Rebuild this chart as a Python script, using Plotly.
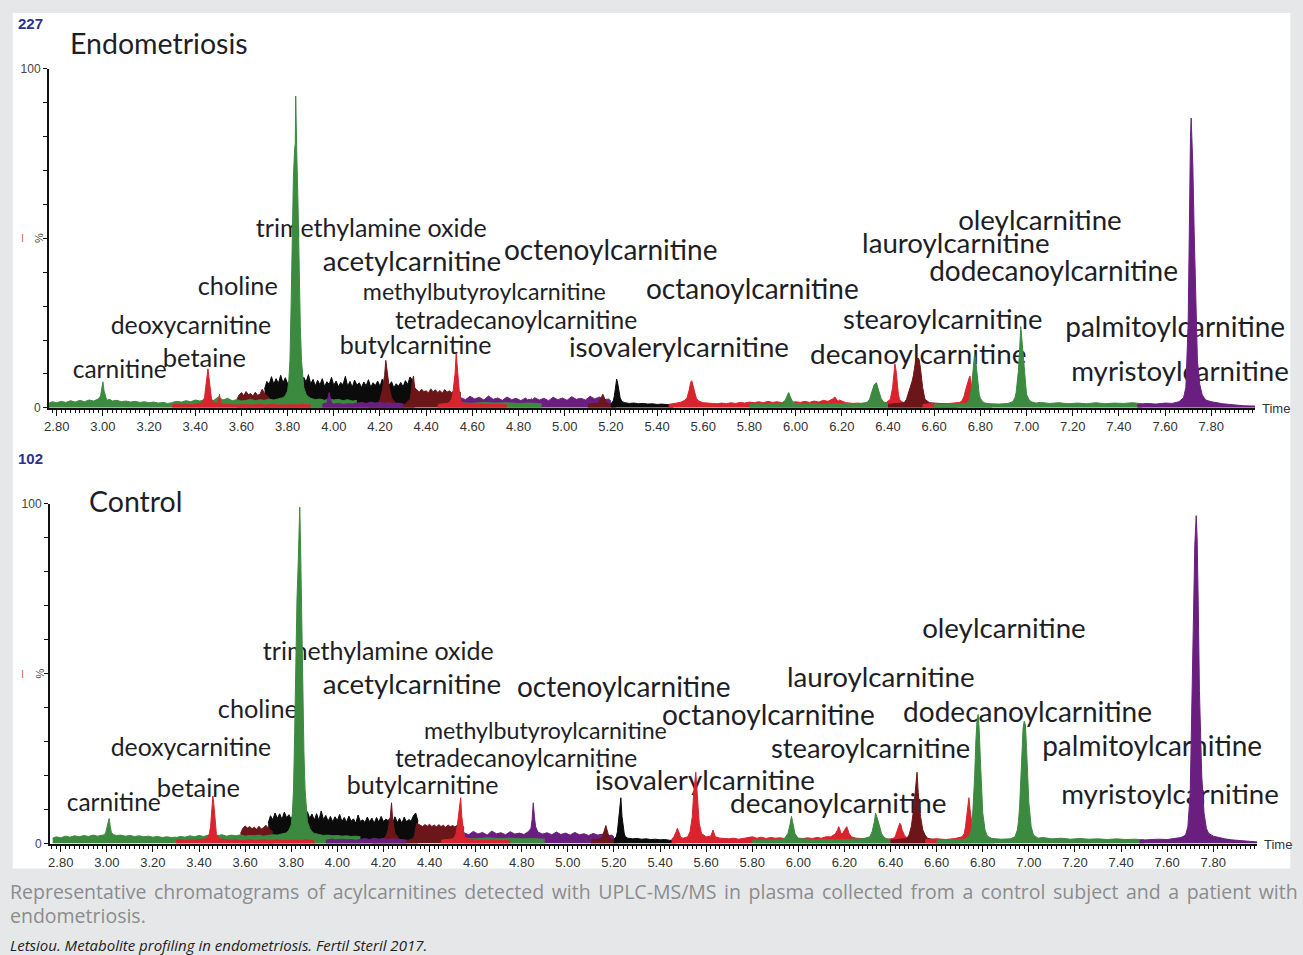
import plotly.graph_objects as go

W, H = 1303, 955

# ---------------- data ----------------
TIME_TICKS = [2.8, 3.0, 3.2, 3.4, 3.6, 3.8, 4.0, 4.2, 4.4, 4.6, 4.8, 5.0, 5.2,
              5.4, 5.6, 5.8, 6.0, 6.2, 6.4, 6.6, 6.8, 7.0, 7.2, 7.4, 7.6, 7.8]
TIME_TICK_LABELS = ["2.80", "3.00", "3.20", "3.40", "3.60", "3.80", "4.00", "4.20",
                    "4.40", "4.60", "4.80", "5.00", "5.20", "5.40", "5.60", "5.80",
                    "6.00", "6.20", "6.40", "6.60", "6.80", "7.00", "7.20", "7.40",
                    "7.60", "7.80"]
PCT_TICKS = [0, 10, 20, 30, 40, 50, 60, 70, 80, 90, 100]
PCT_TICK_LABELS = ["0", "", "", "", "", "", "", "", "", "", "100"]

PANEL_NAMES = ["Endometriosis", "Control"]
PANEL_MAX = ["227", "102"]

# Channels: rows of (retention time [min], endometriosis [%], control [%])
G1 = [(2.765, 1.3, 1.6), (2.78, 1.8, 2.0), (2.80, 1.5, 1.7), (2.82, 1.9, 2.2), (2.84, 1.6, 1.9),
      (2.86, 2.1, 2.3), (2.88, 1.7, 2.0), (2.90, 2.2, 2.4), (2.92, 1.8, 2.1), (2.94, 2.3, 2.5),
      (2.96, 2.0, 2.2), (2.98, 2.6, 2.4), (2.99, 3.5, 2.6), (2.995, 5.5, 3.2), (3.00, 7.7, 4.5),
      (3.005, 5.0, 6.5), (3.01, 3.4, 7.4), (3.015, 2.6, 5.0), (3.02, 2.3, 3.2), (3.03, 2.5, 2.6),
      (3.04, 2.0, 2.4), (3.06, 2.2, 2.5), (3.08, 1.8, 2.2), (3.10, 2.0, 2.4), (3.12, 1.7, 2.1),
      (3.14, 1.9, 2.3), (3.16, 1.6, 2.0), (3.18, 1.8, 2.2), (3.20, 1.5, 1.9), (3.22, 1.7, 2.1),
      (3.24, 1.4, 1.8), (3.26, 1.6, 2.0), (3.28, 1.3, 1.8), (3.30, 1.5, 1.9)]

R1 = [(3.30, 0.9, 1.0), (3.32, 1.0, 1.1), (3.34, 0.8, 0.9), (3.36, 1.0, 1.1), (3.38, 0.9, 1.0),
      (3.40, 1.0, 1.1), (3.42, 1.2, 1.2), (3.43, 1.6, 1.4), (3.44, 3.0, 2.0), (3.445, 6.0, 3.0),
      (3.45, 9.5, 5.0), (3.455, 11.5, 9.0), (3.46, 8.5, 14.0), (3.465, 5.0, 11.0), (3.47, 2.8, 6.0),
      (3.475, 2.0, 3.0), (3.48, 1.5, 2.0), (3.49, 1.3, 1.5), (3.50, 1.6, 1.3), (3.505, 4.0, 1.4),
      (3.51, 1.5, 1.2), (3.52, 1.0, 1.1), (3.54, 0.9, 1.0), (3.56, 1.0, 1.1), (3.58, 0.8, 0.9),
      (3.60, 0.9, 1.0), (3.62, 1.0, 1.1), (3.64, 0.8, 0.9), (3.66, 0.9, 1.0), (3.68, 1.0, 1.1),
      (3.70, 0.8, 0.9), (3.72, 0.9, 1.0), (3.74, 1.0, 1.1), (3.76, 0.8, 0.9), (3.78, 0.9, 1.0),
      (3.80, 1.0, 1.1), (3.82, 0.9, 1.0), (3.84, 0.8, 0.9), (3.86, 1.0, 1.1), (3.88, 0.9, 1.0),
      (3.90, 0.8, 0.9)]

M1 = [(3.58, 2.5, 3.0), (3.59, 3.8, 4.5), (3.60, 4.5, 5.2), (3.61, 3.6, 4.6), (3.62, 4.8, 5.0),
      (3.63, 3.9, 4.4), (3.64, 4.2, 4.8), (3.65, 3.5, 4.2), (3.66, 4.6, 5.1), (3.67, 3.7, 4.3),
      (3.68, 4.0, 4.7), (3.69, 5.5, 5.4), (3.70, 4.2, 4.6), (3.71, 3.5, 4.0), (3.72, 3.0, 3.5)]

K1 = [(3.70, 5.5, 6.0), (3.71, 7.8, 8.2), (3.72, 6.9, 7.0), (3.73, 9.2, 9.0), (3.74, 7.0, 7.4),
      (3.75, 8.6, 8.8), (3.76, 7.2, 7.1), (3.77, 9.6, 9.3), (3.78, 7.4, 7.6), (3.79, 8.9, 8.5),
      (3.80, 7.1, 7.2), (3.81, 8.3, 8.9), (3.82, 7.5, 7.3), (3.83, 8.0, 8.4), (3.84, 7.3, 7.0),
      (3.85, 8.8, 8.6), (3.86, 6.9, 7.2), (3.87, 9.0, 9.4), (3.88, 7.6, 7.5), (3.89, 9.8, 8.7),
      (3.90, 7.0, 6.9), (3.91, 8.4, 8.8), (3.92, 6.5, 6.8), (3.93, 8.1, 9.6), (3.94, 6.8, 7.1),
      (3.95, 8.6, 8.3), (3.96, 6.3, 6.6), (3.97, 7.7, 8.0), (3.98, 6.9, 6.4), (3.99, 9.0, 7.9),
      (4.00, 6.6, 6.8), (4.01, 7.9, 8.6), (4.02, 6.2, 6.5), (4.03, 7.5, 7.7), (4.04, 6.8, 6.3),
      (4.05, 9.3, 8.1), (4.06, 6.4, 6.6), (4.07, 7.8, 7.3), (4.08, 6.1, 6.0), (4.09, 8.2, 8.4),
      (4.10, 6.7, 6.5), (4.11, 7.4, 7.0), (4.12, 6.0, 6.2), (4.13, 7.6, 7.8), (4.14, 6.5, 6.4),
      (4.15, 8.3, 7.5), (4.16, 6.1, 6.0), (4.17, 7.4, 7.7), (4.18, 6.6, 6.3), (4.19, 7.9, 8.0),
      (4.20, 6.3, 6.5), (4.21, 8.5, 7.2), (4.22, 6.2, 6.8), (4.23, 7.2, 7.5), (4.24, 6.7, 6.1),
      (4.25, 7.7, 7.9), (4.26, 5.9, 6.2), (4.27, 7.1, 7.4), (4.28, 6.4, 6.0), (4.29, 7.5, 7.8),
      (4.30, 6.2, 6.4), (4.31, 8.0, 7.1), (4.32, 6.9, 6.6), (4.33, 9.1, 8.2), (4.34, 8.2, 9.0),
      (4.35, 6.0, 6.5)]

G2 = [(3.30, 1.6, 1.8), (3.32, 1.9, 2.1), (3.34, 1.7, 1.9), (3.36, 2.1, 2.3), (3.38, 1.8, 2.0),
      (3.40, 2.3, 2.4), (3.42, 2.0, 2.1), (3.44, 2.4, 2.5), (3.46, 2.1, 2.2), (3.48, 2.2, 2.4),
      (3.50, 3.2, 2.6), (3.52, 2.3, 2.2), (3.54, 2.8, 2.5), (3.56, 2.1, 2.3), (3.58, 2.4, 2.6),
      (3.60, 2.0, 2.2), (3.62, 2.2, 2.4), (3.64, 2.5, 2.3), (3.66, 2.1, 2.5), (3.68, 2.4, 2.2),
      (3.70, 2.2, 2.4), (3.72, 2.6, 2.6), (3.74, 2.3, 2.5), (3.76, 2.7, 2.8), (3.78, 3.0, 3.2),
      (3.79, 3.6, 4.0), (3.80, 5.0, 5.5), (3.805, 8.0, 9.0), (3.81, 14.0, 16.0), (3.815, 30.0, 33.0),
      (3.82, 52.0, 55.0), (3.825, 68.0, 72.0), (3.83, 76.0, 82.0), (3.833, 78.0, 88.0),
      (3.835, 92.0, 96.0), (3.837, 78.0, 99.0), (3.84, 74.0, 90.0), (3.845, 60.0, 68.0),
      (3.85, 40.0, 45.0), (3.855, 24.0, 27.0), (3.86, 14.0, 16.0), (3.865, 9.0, 10.0),
      (3.87, 6.0, 6.5), (3.88, 4.0, 4.5), (3.89, 3.2, 3.5), (3.90, 2.8, 3.0), (3.92, 2.4, 2.6),
      (3.94, 2.6, 2.4), (3.96, 2.2, 2.5), (3.98, 2.7, 2.3), (4.00, 2.3, 2.4), (4.02, 2.5, 2.2),
      (4.04, 2.1, 2.3), (4.06, 2.4, 2.1), (4.08, 2.0, 2.2), (4.10, 2.2, 2.0)]

M2 = [(4.15, 0.8, 0.8), (4.17, 0.9, 0.9), (4.19, 1.0, 1.0), (4.20, 2.5, 1.5), (4.21, 5.0, 2.0),
      (4.215, 7.5, 3.0), (4.22, 9.5, 4.0), (4.225, 14.0, 6.0), (4.23, 11.0, 8.0), (4.235, 9.5, 12.0),
      (4.24, 6.0, 7.0), (4.25, 3.0, 3.0), (4.27, 1.2, 1.2), (4.29, 1.0, 1.0), (4.31, 1.1, 1.0),
      (4.33, 2.5, 1.6), (4.335, 4.5, 2.5), (4.34, 8.0, 4.5), (4.345, 9.4, 6.0), (4.35, 6.0, 5.8),
      (4.36, 5.2, 5.4), (4.37, 4.6, 5.0), (4.38, 5.5, 5.6), (4.39, 4.8, 5.1), (4.40, 5.0, 5.7),
      (4.41, 4.4, 5.0), (4.42, 5.6, 5.5), (4.43, 4.7, 4.9), (4.44, 5.3, 5.6), (4.45, 4.5, 5.0),
      (4.46, 5.1, 5.4), (4.47, 4.3, 4.8), (4.48, 5.4, 5.5), (4.49, 4.6, 5.0), (4.50, 5.0, 5.3),
      (4.51, 4.5, 4.9), (4.52, 4.9, 5.4), (4.53, 4.6, 5.0), (4.54, 4.8, 5.2), (4.55, 4.5, 4.8)]

P1 = [(3.95, 1.0, 1.0), (3.96, 1.2, 1.1), (3.97, 1.5, 1.2), (3.975, 3.0, 1.3), (3.98, 4.5, 1.4),
      (3.985, 3.0, 1.2), (3.99, 1.4, 1.1), (4.00, 1.1, 1.2), (4.02, 1.3, 1.3), (4.04, 1.0, 1.1),
      (4.06, 1.2, 1.2), (4.08, 1.1, 1.0), (4.10, 1.4, 1.3), (4.12, 1.6, 1.5), (4.14, 1.3, 1.2),
      (4.16, 1.7, 1.6), (4.18, 1.4, 1.3), (4.20, 1.6, 1.5), (4.22, 1.3, 1.2), (4.24, 1.5, 1.4),
      (4.26, 1.2, 1.3), (4.28, 1.4, 1.2), (4.30, 1.1, 1.0)]

R2 = [(4.45, 1.0, 1.0), (4.47, 1.1, 1.1), (4.49, 1.3, 1.2), (4.50, 1.6, 1.4), (4.51, 2.5, 2.0),
      (4.515, 4.0, 3.0), (4.52, 6.5, 5.0), (4.525, 10.0, 8.0), (4.53, 16.0, 11.0), (4.535, 12.0, 13.5),
      (4.54, 7.0, 8.0), (4.545, 3.5, 4.0), (4.55, 2.0, 2.2), (4.56, 1.4, 1.5), (4.58, 1.2, 1.2),
      (4.60, 1.1, 1.1), (4.62, 1.0, 1.0), (4.64, 1.2, 1.1), (4.66, 1.0, 1.0), (4.68, 1.1, 1.0),
      (4.70, 0.9, 0.9), (4.72, 1.0, 1.0), (4.74, 0.9, 0.9), (4.75, 0.8, 0.8)]

P2 = [(4.55, 3.0, 3.2), (4.57, 2.4, 2.6), (4.59, 3.4, 3.6), (4.61, 2.6, 2.8), (4.63, 3.1, 3.3),
      (4.65, 2.3, 2.5), (4.67, 3.5, 3.7), (4.69, 2.5, 2.9), (4.71, 2.9, 3.2), (4.73, 2.2, 2.6),
      (4.75, 3.2, 3.5), (4.77, 2.4, 2.8), (4.79, 2.8, 3.1), (4.81, 2.1, 2.7), (4.83, 2.9, 3.6),
      (4.84, 2.3, 4.5), (4.845, 2.6, 7.0), (4.85, 2.2, 12.0), (4.855, 2.7, 8.0), (4.86, 2.4, 5.0),
      (4.87, 3.0, 3.4), (4.89, 2.3, 2.8), (4.91, 2.8, 3.2), (4.93, 2.1, 2.6), (4.95, 3.1, 3.4),
      (4.97, 2.4, 2.7), (4.99, 2.9, 3.1), (5.01, 2.2, 2.5), (5.03, 3.3, 3.3), (5.05, 2.5, 2.6),
      (5.07, 2.8, 2.9), (5.09, 2.3, 2.4), (5.11, 3.4, 3.0), (5.13, 2.6, 2.5), (5.15, 3.2, 2.8),
      (5.17, 2.4, 2.3), (5.19, 2.6, 2.5), (5.20, 2.0, 2.0)]

G3 = [(4.55, 1.5, 1.6), (4.60, 1.3, 1.4), (4.65, 1.6, 1.7), (4.70, 1.4, 1.5), (4.75, 1.5, 1.6),
      (4.80, 1.3, 1.4), (4.85, 1.4, 1.5), (4.90, 1.2, 1.3)]

M3 = [(5.10, 1.0, 1.0), (5.12, 1.1, 1.1), (5.14, 1.3, 1.4), (5.15, 1.8, 2.0), (5.155, 2.5, 3.0),
      (5.16, 3.5, 4.3), (5.165, 4.0, 5.3), (5.17, 3.2, 4.0), (5.175, 2.0, 2.5), (5.18, 1.4, 1.6),
      (5.19, 1.1, 1.2), (5.20, 1.0, 1.0), (5.21, 0.9, 0.9), (5.22, 0.8, 0.8)]

K2 = [(5.20, 1.2, 1.3), (5.21, 2.0, 2.0), (5.215, 3.5, 3.5), (5.22, 6.0, 7.0), (5.225, 8.5, 11.0),
      (5.23, 7.0, 13.5), (5.235, 4.5, 8.0), (5.24, 3.0, 4.5), (5.245, 2.2, 2.8), (5.25, 1.8, 2.0),
      (5.26, 1.5, 1.6), (5.28, 1.3, 1.4), (5.30, 1.4, 1.5), (5.32, 1.2, 1.3), (5.34, 1.3, 1.4),
      (5.36, 1.1, 1.2), (5.38, 1.2, 1.3), (5.40, 1.0, 1.1), (5.42, 1.1, 1.2), (5.44, 1.0, 1.0),
      (5.46, 0.9, 0.9), (5.47, 0.8, 0.8)]

R3 = [(5.45, 1.0, 1.2), (5.46, 1.1, 2.0), (5.47, 1.2, 3.5), (5.475, 1.2, 4.5), (5.48, 1.3, 3.8),
      (5.485, 1.3, 2.5), (5.49, 1.4, 1.8), (5.50, 1.6, 1.6), (5.52, 2.2, 2.0), (5.53, 3.0, 3.5),
      (5.54, 5.5, 8.0), (5.545, 7.5, 14.0), (5.55, 8.0, 19.0), (5.555, 6.8, 21.0), (5.56, 6.0, 16.0),
      (5.565, 4.0, 10.0), (5.57, 2.8, 6.0), (5.58, 2.0, 3.0), (5.60, 1.5, 2.0), (5.62, 1.4, 2.2),
      (5.625, 1.4, 3.0), (5.63, 1.5, 4.0), (5.635, 1.4, 3.0), (5.64, 1.3, 2.0), (5.66, 1.2, 1.6),
      (5.68, 1.4, 1.5), (5.70, 1.2, 1.4), (5.72, 1.5, 1.6), (5.74, 1.3, 1.3), (5.76, 1.6, 1.5),
      (5.78, 1.4, 1.8), (5.80, 1.7, 2.0), (5.82, 1.5, 1.6), (5.84, 1.8, 1.9), (5.86, 1.5, 1.5),
      (5.88, 1.9, 1.8), (5.90, 1.6, 1.6), (5.92, 1.8, 1.7), (5.94, 1.5, 1.5), (5.96, 1.7, 1.6),
      (5.98, 1.5, 1.4), (6.00, 1.8, 1.6), (6.02, 1.6, 1.5), (6.04, 1.9, 1.7), (6.06, 1.6, 1.5),
      (6.08, 2.0, 1.8), (6.10, 1.7, 1.6), (6.12, 2.2, 2.0), (6.14, 1.9, 2.0), (6.16, 2.6, 2.8),
      (6.17, 3.2, 4.0), (6.175, 2.5, 5.0), (6.18, 2.2, 4.2), (6.185, 2.0, 3.0), (6.19, 2.3, 2.8),
      (6.20, 2.0, 3.8), (6.205, 1.8, 4.6), (6.21, 1.7, 5.0), (6.215, 1.6, 4.0), (6.22, 1.5, 3.0),
      (6.23, 1.4, 2.0), (6.25, 1.3, 1.6), (6.27, 1.4, 1.5), (6.29, 1.2, 1.4), (6.31, 1.3, 1.3),
      (6.33, 1.2, 1.2), (6.35, 1.3, 1.3), (6.37, 1.2, 1.2), (6.39, 1.4, 1.3), (6.41, 2.5, 1.5),
      (6.42, 6.0, 2.0), (6.425, 10.0, 3.0), (6.43, 13.0, 4.0), (6.435, 11.0, 5.0), (6.44, 7.0, 6.0),
      (6.445, 4.0, 5.5), (6.45, 2.5, 4.0), (6.46, 1.8, 2.5), (6.47, 1.5, 1.8), (6.49, 1.3, 1.4),
      (6.52, 1.2, 1.2), (6.55, 1.1, 1.1)]

G4 = [(5.80, 1.0, 1.0), (5.84, 1.1, 1.1), (5.88, 1.0, 1.2), (5.92, 1.2, 1.1), (5.94, 1.4, 1.5),
      (5.955, 2.2, 3.0), (5.965, 3.8, 6.0), (5.97, 4.5, 8.0), (5.975, 3.6, 6.5), (5.985, 2.0, 3.0),
      (6.00, 1.3, 1.5), (6.04, 1.1, 1.2), (6.08, 1.2, 1.1), (6.12, 1.0, 1.2), (6.16, 1.2, 1.1),
      (6.20, 1.1, 1.2), (6.24, 1.2, 1.3), (6.28, 1.3, 1.4), (6.31, 1.6, 2.0), (6.32, 2.5, 3.5),
      (6.33, 4.5, 6.5), (6.335, 6.0, 9.0), (6.34, 6.8, 8.0), (6.35, 7.4, 6.0), (6.355, 6.5, 4.5),
      (6.36, 5.0, 3.0), (6.37, 2.8, 2.0), (6.38, 1.8, 1.5), (6.40, 1.2, 1.2)]

M4 = [(6.40, 1.0, 1.0), (6.44, 1.2, 1.2), (6.47, 1.5, 1.5), (6.48, 2.5, 2.5), (6.49, 4.5, 5.0),
      (6.50, 6.5, 10.0), (6.505, 8.0, 14.0), (6.51, 9.5, 18.0), (6.515, 12.0, 21.0), (6.52, 14.0, 15.0),
      (6.525, 14.5, 11.0), (6.53, 14.7, 8.0), (6.535, 14.2, 6.0), (6.54, 12.0, 4.0), (6.55, 6.0, 2.5),
      (6.56, 2.5, 1.6), (6.58, 1.5, 1.3), (6.62, 1.2, 1.2), (6.66, 1.1, 1.1), (6.70, 1.0, 1.0)]

R4 = [(6.55, 1.0, 1.1), (6.60, 1.3, 1.4), (6.64, 1.1, 1.2), (6.68, 1.4, 1.5), (6.71, 1.6, 2.0),
      (6.72, 2.0, 3.0), (6.725, 2.8, 5.0), (6.73, 3.5, 8.0), (6.735, 5.0, 12.0), (6.74, 6.5, 13.5),
      (6.745, 7.5, 10.0), (6.75, 8.5, 7.0), (6.755, 9.4, 5.0), (6.76, 7.0, 3.0), (6.765, 4.0, 2.0),
      (6.77, 2.5, 1.6), (6.78, 1.8, 1.4), (6.80, 1.4, 1.2), (6.83, 1.2, 1.1), (6.85, 1.0, 1.0)]

G5 = [(6.60, 1.0, 1.0), (6.64, 1.1, 1.2), (6.68, 1.0, 1.1), (6.72, 1.2, 1.3), (6.74, 1.4, 2.0),
      (6.75, 2.0, 4.0), (6.755, 3.0, 7.0), (6.76, 5.0, 12.0), (6.765, 8.5, 20.0), (6.77, 13.0, 30.0),
      (6.775, 16.0, 36.0), (6.78, 14.0, 38.0), (6.785, 10.0, 33.0), (6.79, 6.5, 24.0), (6.795, 4.0, 15.0),
      (6.80, 2.8, 9.0), (6.81, 1.8, 4.0), (6.82, 1.4, 2.2), (6.84, 1.2, 1.5), (6.88, 1.1, 1.3),
      (6.92, 1.3, 1.4), (6.94, 1.8, 2.0), (6.95, 3.0, 4.0), (6.955, 4.5, 6.5), (6.96, 7.0, 11.0),
      (6.965, 11.0, 18.0), (6.97, 17.0, 27.0), (6.975, 24.0, 34.0), (6.98, 20.0, 36.0), (6.985, 16.0, 35.0),
      (6.99, 10.0, 28.0), (6.995, 6.0, 19.0), (7.00, 4.0, 12.0), (7.01, 2.5, 5.0), (7.02, 1.8, 2.5),
      (7.04, 1.4, 1.6), (7.06, 1.6, 1.8), (7.10, 1.3, 1.4), (7.14, 1.5, 1.6), (7.18, 1.2, 1.3),
      (7.22, 1.4, 1.5), (7.26, 1.2, 1.3), (7.30, 1.5, 1.4), (7.34, 1.2, 1.2), (7.38, 1.4, 1.4),
      (7.42, 1.3, 1.2), (7.46, 1.5, 1.3), (7.50, 1.2, 1.1)]

P3 = [(7.48, 1.0, 1.0), (7.52, 1.3, 1.2), (7.56, 1.1, 1.3), (7.60, 1.4, 1.2), (7.63, 1.3, 1.5),
      (7.66, 1.8, 1.8), (7.68, 3.0, 2.5), (7.69, 6.0, 5.0), (7.70, 25.0, 15.0), (7.705, 60.0, 35.0),
      (7.71, 80.0, 60.0), (7.713, 85.5, 72.0), (7.716, 80.0, 80.0), (7.72, 72.0, 88.0),
      (7.726, 52.0, 96.5), (7.73, 38.0, 90.0), (7.735, 24.0, 70.0), (7.74, 14.0, 45.0),
      (7.75, 7.0, 20.0), (7.76, 4.0, 9.0), (7.77, 2.8, 4.5), (7.78, 2.2, 3.0), (7.80, 1.8, 2.2),
      (7.82, 1.5, 1.8), (7.85, 1.2, 1.4), (7.88, 1.0, 1.1), (7.91, 0.8, 0.9), (7.94, 0.6, 0.7),
      (7.99, 0.5, 0.5)]

COMPOUNDS = ["carnitine", "betaine", "deoxycarnitine", "choline", "trimethylamine oxide",
             "acetylcarnitine", "methylbutyroylcarnitine", "tetradecanoylcarnitine",
             "butylcarnitine", "octenoylcarnitine", "octanoylcarnitine", "isovalerylcarnitine",
             "decanoylcarnitine", "stearoylcarnitine", "lauroylcarnitine", "oleylcarnitine",
             "dodecanoylcarnitine", "palmitoylcarnitine", "myristoylcarnitine"]

CAPTION_1 = ("Representative chromatograms of acylcarnitines detected with UPLC-MS/MS in plasma "
             "collected from a control subject and a patient with")
CAPTION_2 = "endometriosis."
CITATION = "Letsiou. Metabolite profiling in endometriosis. Fertil Steril 2017."

# ---------------- styles / layout ----------------
GREEN = "#3c8a3f"
RED = "#d9242d"
MAROON = "#6c1619"
BLACK = "#0b0b0b"
PURPLE = "#6a1f80"

DRAW_ORDER = [(G1, GREEN), (K1, BLACK), (M1, MAROON), (M2, MAROON), (G2, GREEN), (R1, RED),
              (P1, PURPLE), (P2, PURPLE), (G3, GREEN), (R2, RED), (M3, MAROON), (K2, BLACK),
              (R3, RED), (G4, GREEN), (M4, MAROON), (R4, RED), (G5, GREEN), (P3, PURPLE)]

# label positions in reference pixels: (left x, centre y) for each panel
LABEL_POS = [
    [(73, 371), (163, 360), (111, 327), (198, 288), (256, 230), (323, 263), (363, 293),
     (395, 322), (340, 347), (504, 252), (646, 291), (569, 349), (810, 356), (843, 321),
     (862, 245), (958, 222), (929, 273), (1065, 329), (1071, 373)],
    [(67, 804), (157, 790), (111, 749), (218, 711), (263, 653), (323, 686), (424, 733),
     (395, 760), (347, 787), (517, 689), (662, 717), (595, 782), (730, 805), (771, 751),
     (787, 679), (922, 630), (903, 714), (1042, 748), (1061, 796)],
]
LABEL_SIZE = [24.5, 25.5, 24.8, 25.3, 25, 27.7, 23.2, 24.6, 25, 28, 28, 27.7, 27.9, 27.3,
              27.7, 27.7, 28, 28, 27.7]

# axis geometry (reference pixels): x-left, x-right, px of 2.80, px per minute, y of 0 %, y of 100 %
PANEL_GEOM = [
    dict(xl=49, xr=1255, x0=57, ppm=230.8, y0=407, y100=68),
    dict(xl=50, xr=1257, x0=61, ppm=230.4, y0=843, y100=503),
]

LABEL_FONT = "Lato, 'Open Sans', sans-serif"
TICK_FONT = "'Liberation Sans Narrow', 'Arial Narrow', 'Liberation Sans', Arial, sans-serif"
TEXT_COLOR = "#1e1e26"

# reference-pixel -> page-pixel correction (observed capture offset/scale)
SX, OX = 0.9957, 5.3
SY, OY = 0.9858, 6.0


def px_x(p):
    return ((p - OX) / SX) / W


def px_y(p):
    return 1 - ((p - OY) / SY) / H


fig = go.Figure()

for i, g in enumerate(PANEL_GEOM):
    xa = "x" if i == 0 else "x2"
    ya = "y" if i == 0 else "y2"

    def to_t(px, g=g):
        return 2.80 + (px - g["x0"]) / g["ppm"]

    def to_pct(py, g=g):
        return (g["y0"] - py) / ((g["y0"] - g["y100"]) / 100.0)

    # labels drawn first so the peaks sit on top of the text
    fig.add_trace(go.Scatter(
        x=[to_t(p[0]) for p in LABEL_POS[i]],
        y=[to_pct(p[1]) for p in LABEL_POS[i]],
        mode="text", text=COMPOUNDS, textposition="middle right",
        textfont=dict(family=LABEL_FONT, size=LABEL_SIZE, color=TEXT_COLOR),
        cliponaxis=False, hoverinfo="skip", showlegend=False, xaxis=xa, yaxis=ya))

    for rows, color in DRAW_ORDER:
        fig.add_trace(go.Scatter(
            x=[r[0] for r in rows], y=[r[1 + i] for r in rows],
            mode="lines", fill="tozeroy", fillcolor=color,
            line=dict(color=color, width=1), hoverinfo="skip", showlegend=False,
            xaxis=xa, yaxis=ya))

    xr = [to_t(g["xl"]), to_t(g["xr"])]
    xaxis = dict(
        domain=[px_x(g["xl"]), px_x(g["xr"])], range=xr, anchor=ya,
        tickmode="array", tickvals=TIME_TICKS, ticktext=TIME_TICK_LABELS,
        ticks="outside", ticklen=6, tickwidth=1.2, tickcolor="#111",
        minor=dict(dtick=0.02, tick0=2.8, ticks="outside", ticklen=3, tickwidth=1, tickcolor="#111"),
        showline=True, linecolor="#111", linewidth=1.8, showgrid=False, zeroline=False,
        tickfont=dict(family=TICK_FONT, size=13, color="#333"), fixedrange=True)
    yaxis = dict(
        domain=[px_y(g["y0"]), px_y(g["y100"])], range=[0, 100], anchor=xa,
        tickmode="array", tickvals=PCT_TICKS, ticktext=PCT_TICK_LABELS,
        ticks="outside", ticklen=4, tickwidth=1, tickcolor="#111",
        showline=True, linecolor="#111", linewidth=1.5, showgrid=False, zeroline=False,
        tickfont=dict(family=TICK_FONT, size=12, color="#444"), fixedrange=True)
    if i == 0:
        fig.update_layout(xaxis=xaxis, yaxis=yaxis)
    else:
        fig.update_layout(xaxis2=xaxis, yaxis2=yaxis)

annotations = []
HEAD_Y = [(23, 42), (458, 500)]
HEAD_X = [70, 89]
for i, g in enumerate(PANEL_GEOM):
    ny, ty = HEAD_Y[i]
    annotations.append(dict(text=PANEL_MAX[i], x=px_x(16), y=px_y(ny), xref="paper", yref="paper",
                            xanchor="left", yanchor="middle", showarrow=False,
                            font=dict(family=TICK_FONT, size=15, color="#2e3192", weight="bold")))
    annotations.append(dict(text=PANEL_NAMES[i], x=px_x(HEAD_X[i] - 2), y=px_y(ty), xref="paper",
                            yref="paper", xanchor="left", yanchor="middle", showarrow=False,
                            font=dict(family=LABEL_FONT, size=28.5, color=TEXT_COLOR)))
    mid = (g["y0"] + g["y100"]) / 2
    annotations.append(dict(text="%", x=px_x(40), y=px_y(mid), xref="paper", yref="paper",
                            xanchor="center", yanchor="middle", showarrow=False, textangle=-90,
                            font=dict(family=TICK_FONT, size=11, color="#444")))
    annotations.append(dict(text="I", x=px_x(23), y=px_y(mid), xref="paper", yref="paper",
                            xanchor="center", yanchor="middle", showarrow=False,
                            font=dict(family=TICK_FONT, size=11, color="#e06a70")))
    annotations.append(dict(text="Time", x=px_x(g["xr"] + 5), y=px_y(g["y0"] + 1), xref="paper",
                            yref="paper", xanchor="left", yanchor="middle", showarrow=False,
                            font=dict(family=TICK_FONT, size=13, color="#333")))

annotations.append(dict(text='<span style="word-spacing:2.5px">' + CAPTION_1 + "</span>",
                        x=px_x(8), y=px_y(891), xref="paper", yref="paper",
                        xanchor="left", yanchor="middle", showarrow=False,
                        font=dict(family="'Open Sans', sans-serif", size=19.5, color="#8a8c8f")))
annotations.append(dict(text=CAPTION_2, x=px_x(8), y=px_y(915), xref="paper", yref="paper",
                        xanchor="left", yanchor="middle", showarrow=False,
                        font=dict(family="'Open Sans', sans-serif", size=19.5, color="#8a8c8f")))
annotations.append(dict(text="<i>" + CITATION + "</i>", x=px_x(8), y=px_y(944), xref="paper",
                        yref="paper", xanchor="left", yanchor="middle", showarrow=False,
                        font=dict(family="'Open Sans', sans-serif", size=15, color="#222")))

fig.update_layout(
    width=W, height=H, margin=dict(l=0, r=0, t=0, b=0),
    paper_bgcolor="#e6e7e8", plot_bgcolor="white",
    shapes=[dict(type="rect", xref="paper", yref="paper", x0=px_x(13), x1=px_x(1290),
                 y0=px_y(868), y1=px_y(12), fillcolor="white", line=dict(width=0), layer="below")],
    annotations=annotations, showlegend=False)

fig.write_html("out.html")
